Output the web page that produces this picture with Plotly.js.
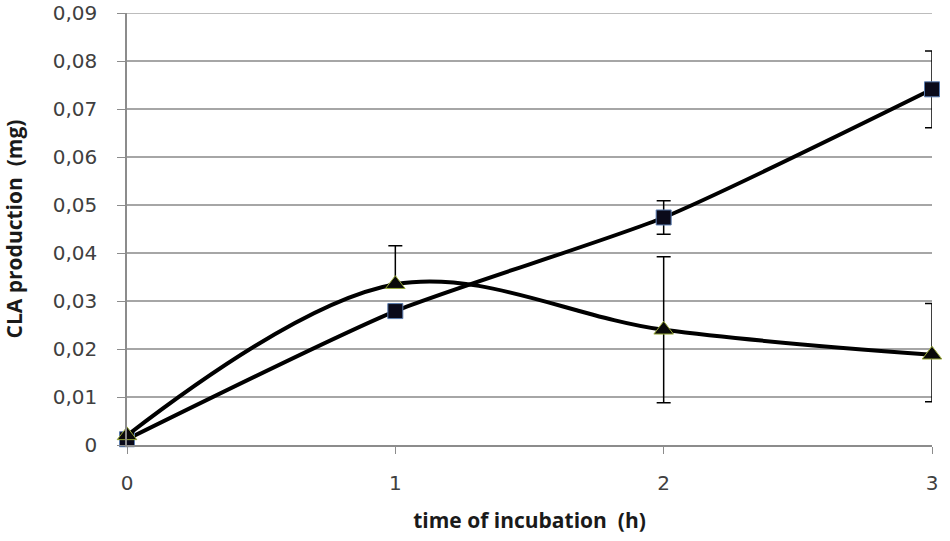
<!DOCTYPE html>
<html>
<head>
<meta charset="utf-8">
<script src="https://cdn.plot.ly/plotly-3.0.1.min.js"></script>
<style>
  html, body { margin: 0; padding: 0; background: #fff; }
  #chart { width: 950px; height: 541px; }
</style>
</head>
<body>
<div id="chart"></div>
<script>
// time points (h)
var hours = [0, 1, 2, 3];

// square series
var squareVals = [0.0012, 0.0279, 0.0474, 0.0741];
var squareErr = [0.0005, 0.001, 0.0035, 0.008];

// triangle series
var triVals = [0.002, 0.0335, 0.024, 0.0188];
var triErrUp = [0.0005, 0.008, 0.0152, 0.0107];
var triErrDown = [0.0005, 0, 0.0152, 0.0098];

var yTicks = [0, 0.01, 0.02, 0.03, 0.04, 0.05, 0.06, 0.07, 0.08, 0.09];
var xTicks = [0, 1, 2, 3];

try {
  var squares = {
    x: hours,
    y: squareVals,
    mode: 'lines+markers',
    type: 'scatter',
    line: { color: '#000', width: 4, shape: 'spline', smoothing: 0.6 },
    marker: { symbol: 'square', size: 15, color: '#0a0a1a', line: { color: '#5b7db0', width: 1 } },
    error_y: { type: 'data', array: squareErr, visible: true, color: '#000', thickness: 1.5, width: 7 },
    cliponaxis: false
  };

  var triangles = {
    x: hours,
    y: triVals,
    mode: 'lines+markers',
    type: 'scatter',
    line: { color: '#000', width: 4, shape: 'spline', smoothing: 1 },
    marker: { symbol: 'triangle-up', size: 17, color: '#0a0a0a', line: { color: '#9aaa3a', width: 1 } },
    error_y: { type: 'data', symmetric: false, array: triErrUp, arrayminus: triErrDown, visible: true, color: '#000', thickness: 1.5, width: 7 },
    cliponaxis: false
  };

  var titleFont = { family: 'Open Sans, sans-serif', size: 21, color: '#1a1a1a', weight: 'bold' };
  var topTick = yTicks[yTicks.length - 1];

  var layout = {
    width: 950,
    height: 541,
    showlegend: false,
    paper_bgcolor: '#fff',
    plot_bgcolor: '#fff',
    margin: { l: 127, r: 18, t: 13, b: 96 },
    font: { family: 'DejaVu Sans, Verdana, sans-serif', size: 20, color: '#404040' },
    xaxis: {
      range: [0, 3],
      tickvals: xTicks,
      ticktext: xTicks.map(String),
      showgrid: false,
      zeroline: false,
      showline: true,
      linecolor: '#8c8c8c',
      linewidth: 1.5,
      ticks: 'outside',
      ticklen: 7,
      tickcolor: '#8c8c8c',
      ticklabelstandoff: 12,
      tickfont: { size: 20, color: '#404040' },
      title: { text: 'time of incubation  (h)', font: titleFont, standoff: 20 }
    },
    yaxis: {
      range: [0, topTick],
      tickvals: yTicks,
      ticktext: yTicks.map(function (v) { return v === 0 ? '0' : v.toFixed(2).replace('.', ','); }),
      ticklabeloverflow: 'allow',
      showgrid: true,
      gridcolor: '#a6a6a6',
      gridwidth: 1.5,
      zeroline: false,
      showline: true,
      linecolor: '#8c8c8c',
      linewidth: 1.5,
      ticks: 'outside',
      ticklen: 8,
      tickcolor: '#8c8c8c',
      ticklabelstandoff: 16,
      tickfont: { size: 20, color: '#404040' },
      title: { text: 'CLA production  (mg)', font: titleFont, standoff: 24 }
    },
    // top gridline (plotly skips the grid line at the range edge)
    shapes: [{
      type: 'line', layer: 'below',
      xref: 'paper', x0: 0, x1: 1,
      yref: 'y', y0: topTick, y1: topTick,
      line: { color: '#a6a6a6', width: 1.5 }
    }]
  };

  Plotly.newPlot('chart', [squares, triangles], layout, { displayModeBar: false });
} catch (e) {
  console.log('failed');
  console.log(e);
}
</script>
</body>
</html>
